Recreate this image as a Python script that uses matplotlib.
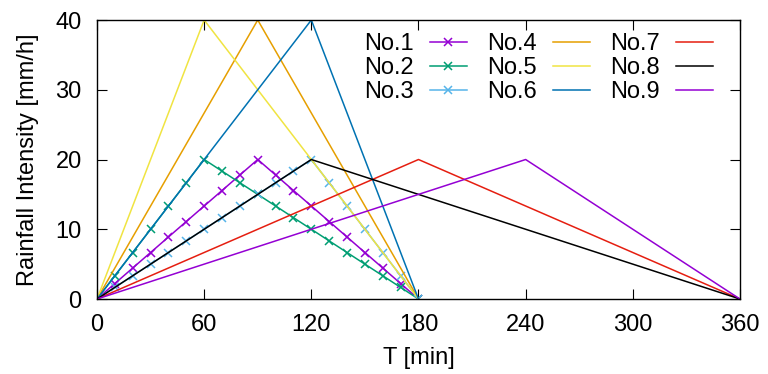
import numpy as np
import matplotlib.pyplot as plt

plt.rcParams['font.family'] = ['Liberation Sans', 'DejaVu Sans']

# hyetograph shapes: peak time, peak intensity, end time
labels = ['No.1', 'No.2', 'No.3', 'No.4', 'No.5', 'No.6', 'No.7', 'No.8', 'No.9']
peak_t = [90, 60, 120, 90, 60, 120, 180, 120, 240]
peak_i = [20, 20, 20, 40, 40, 40, 20, 20, 20]
end_t = [180, 180, 180, 180, 180, 180, 360, 360, 360]
colors = ['#9400d3', '#009e73', '#56b4e9', '#e69f00', '#f0e442',
          '#0072b2', '#e51e10', '#000000', '#9400d3']
with_marks = [True, True, True, False, False, False, False, False, False]

fig = plt.figure(figsize=(7.68, 3.74), dpi=100)
ax = fig.add_axes([0.1263, 0.2005, 0.8372, 0.746])

for lab, tp, ip, te, c, mk in zip(labels, peak_t, peak_i, end_t, colors, with_marks):
    if mk:
        t = np.arange(0, te + 1, 10)
        y = np.interp(t, [0, tp, te], [0, ip, 0])
        ax.plot(t, y, color=c, lw=1.1, marker='x', ms=5.5, mew=1.1, label=lab)
    else:
        ax.plot([0, tp, te], [0, ip, 0], color=c, lw=1.1, label=lab)

ax.set_xlim(0, 360)
ax.set_ylim(0, 40)
ax.set_xticks([0, 60, 120, 180, 240, 300, 360])
ax.set_yticks([0, 10, 20, 30, 40])
ax.tick_params(direction='in', top=True, right=True, labelsize=17, length=7, pad=11)
for s in ax.spines.values():
    s.set_linewidth(1.0)

ax.set_xlabel('T [min]', fontsize=17, labelpad=8)
ax.set_ylabel('Rainfall Intensity [mm/h]', fontsize=17, labelpad=12)

ax.legend(ncol=3, loc='upper right', frameon=False, fontsize=17, markerfirst=False,
          handlelength=1.55, handletextpad=0.7, columnspacing=0.85, labelspacing=0.08,
          borderaxespad=0.0, bbox_to_anchor=(0.972, 0.986))

fig.savefig('out.png', dpi=100)
